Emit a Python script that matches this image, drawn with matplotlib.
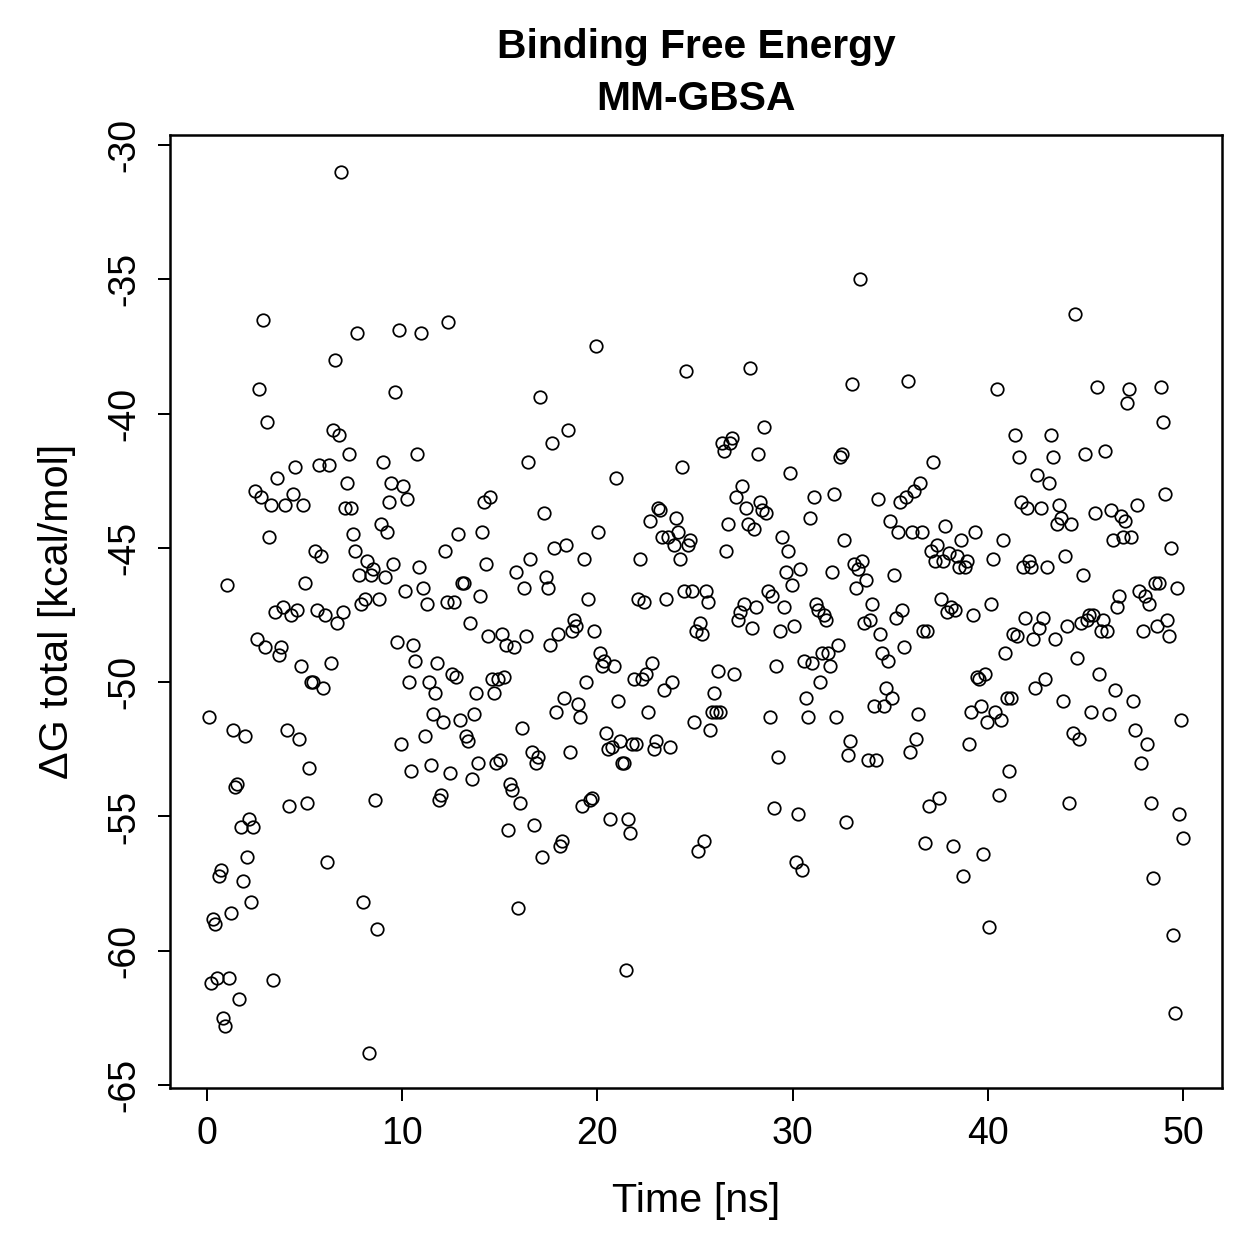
import matplotlib.pyplot as plt
import numpy as np

plt.switch_backend('Agg')
plt.rcParams['font.family'] = ['Liberation Sans', 'DejaVu Sans']
plt.rcParams['axes.unicode_minus'] = False

# binding free energy per frame in time order
dg_total = [
    -51.3, -61.2, -58.8, -59.0, -61.0, -57.2, -57.0, -62.5, -62.8, -46.4, -61.0, -58.6,
    -51.8, -53.9, -53.8, -61.8, -55.4, -57.4, -52.0, -56.5, -55.1, -58.2, -55.4, -42.9,
    -48.4, -39.1, -43.1, -36.5, -48.7, -40.3, -44.6, -43.4, -61.1, -47.4, -42.4, -49.0,
    -48.7, -47.2, -43.4, -51.8, -54.6, -47.5, -43.0, -42.0, -47.3, -52.1, -49.4, -43.4,
    -46.3, -54.5, -53.2, -50.0, -50.0, -45.1, -47.3, -41.9, -45.3, -50.2, -47.5, -56.7,
    -41.9, -49.3, -40.6, -38.0, -47.8, -40.8, -31.0, -47.4, -43.5, -42.6, -41.5, -43.5,
    -44.5, -45.1, -37.0, -46.0, -47.1, -58.2, -46.9, -45.5, -63.8, -46.0, -45.8, -54.4,
    -59.2, -46.9, -44.1, -41.8, -46.1, -44.4, -43.3, -42.6, -45.6, -39.2, -48.5, -36.9,
    -52.3, -42.7, -46.6,
    -43.2, -50.0, -53.3, -48.6, -49.2, -41.5, -45.7, -37.0, -46.5, -52.0, -47.1, -50.0,
    -53.1, -51.2, -50.4, -49.3, -54.4, -54.2, -51.5, -45.1, -47.0, -36.6, -53.4, -49.7,
    -47.0, -49.8, -44.5, -51.4, -46.3, -46.3, -52.0, -52.2, -47.8, -53.6, -51.2, -50.4,
    -53.0, -46.8, -44.4, -43.3, -45.6, -48.3, -43.1, -49.9, -50.4, -53.0, -49.9, -52.9,
    -48.2,
    -49.8, -48.6, -55.5, -53.8, -54.0, -48.7, -45.9, -58.4, -54.5, -51.7, -46.5, -48.3,
    -41.8, -45.4, -52.6, -55.3, -53.0, -52.8, -39.4, -56.5, -43.7, -46.1, -46.5, -48.6,
    -41.1, -45.0, -51.1, -48.2, -56.1, -55.9, -50.6, -44.9, -40.6, -52.6, -48.1, -47.7,
    -47.9, -50.8, -51.3, -54.6, -45.4, -50.0, -46.9, -54.4, -54.3, -48.1, -37.5, -44.4,
    -48.9, -49.4, -49.2,
    -51.9, -52.5, -55.1, -52.4, -49.4, -42.4, -50.7, -52.2, -53.0, -53.0, -60.7, -55.1,
    -55.6, -52.3, -49.9, -52.3, -46.9, -45.4, -49.9, -47.0, -49.7, -51.1, -44.0, -49.3,
    -52.5, -52.2, -43.5, -43.6, -44.6, -50.3, -46.9, -44.6, -52.4, -50.0, -44.9, -43.9,
    -44.4, -45.4, -42.0, -46.6, -38.4, -44.9, -44.7, -46.6, -51.5, -48.1, -56.3, -47.8,
    -48.2, -55.9, -46.6,
    -47.0, -51.8, -51.1, -50.4, -51.1, -49.6, -51.1, -41.1, -41.4, -45.1, -44.1, -41.1,
    -40.9, -49.7, -43.1, -47.7, -47.4, -42.7, -47.1, -43.5, -44.1, -38.3, -48.0, -44.3,
    -47.2, -41.5, -43.3, -43.6, -40.5, -43.7, -46.6, -51.3, -46.8, -54.7, -49.4, -52.8,
    -48.1, -44.6, -47.2, -45.9, -45.1, -42.2, -46.4, -47.9, -56.7, -54.9, -45.8, -57.0,
    -49.2,
    -50.6, -51.3, -43.9, -49.3, -43.1, -47.1, -47.3, -50.0, -48.9, -47.5, -47.7, -48.9,
    -49.4, -45.9, -43.0, -51.3, -48.6, -41.6, -41.5, -44.7, -55.2, -52.7, -52.2, -38.9,
    -45.6, -46.5, -45.8, -35.0, -45.5, -47.8, -46.2, -52.9, -47.7, -47.1, -50.9, -52.9,
    -43.2, -48.2, -48.9, -50.9, -50.2, -49.2, -44.0, -50.6, -46.0, -47.6, -44.4, -43.3,
    -47.3, -48.7,
    -43.1, -38.8, -52.6, -44.4, -42.9, -52.1, -51.2, -42.6, -44.4, -48.1, -56.0, -48.1,
    -54.6, -45.1, -41.8, -45.5, -44.9, -54.3, -46.9, -45.5, -44.2, -47.4, -45.2, -47.2,
    -56.1, -47.3, -45.3, -45.7, -44.7, -57.2, -45.7, -45.5, -52.3, -51.1, -47.5, -44.4,
    -49.8, -49.9, -50.9, -56.4, -49.7, -51.5, -59.1, -47.1, -45.4, -51.1, -39.1, -54.2,
    -51.4, -44.7,
    -48.9, -50.6, -53.3, -50.6, -48.2, -40.8, -48.3, -41.6, -43.3, -45.7, -47.6, -43.5,
    -45.5, -45.7, -48.4, -50.2, -42.3, -48.0, -43.5, -47.6, -49.9, -45.7, -42.6, -40.8,
    -41.6, -48.4, -44.1, -43.4, -43.9, -50.7, -45.3, -47.9, -54.5, -44.1, -51.9, -36.3,
    -49.1, -52.1, -47.8, -46.0, -41.5, -47.7, -47.5, -51.1, -47.5, -43.7, -39.0, -49.7,
    -48.1,
    -47.7, -41.4, -48.1, -51.2, -43.6, -44.7, -50.3, -47.2, -46.8, -43.8, -44.6, -44.0,
    -39.6, -39.1, -44.6, -50.7, -51.8, -43.4, -46.6, -53.0, -48.1, -46.8, -52.3, -47.1,
    -54.5, -57.3, -46.3, -47.9, -46.3, -39.0, -40.3, -43.0, -47.7, -48.3, -45.0, -59.4,
    -62.3, -46.5, -54.9, -51.4, -55.8,
]
# frames are evenly spaced over the 50 ns run
time_ns = np.linspace(0.1, 50, len(dg_total))

x_ticks = [0, 10, 20, 30, 40, 50]
y_ticks = [-30, -35, -40, -45, -50, -55, -60, -65]

fig = plt.figure(figsize=(1259 / 180, 1259 / 180), dpi=180)
ax = fig.add_axes([0.135, 0.1358, 0.8356, 0.757])

ax.plot(time_ns, dg_total, linestyle='none', marker='o', markersize=5.0,
        markerfacecolor='none', markeredgecolor='black', markeredgewidth=0.7)

ax.set_xlim(-1.9, 52.0)
ax.set_ylim(-65.11, -29.63)
ax.set_xticks(x_ticks)
ax.set_xticklabels([str(v) for v in x_ticks])
ax.set_yticks(y_ticks)
ax.set_yticklabels([str(v) for v in y_ticks], rotation=90, va='center')

for s in ax.spines.values():
    s.set_linewidth(1.0)
ax.tick_params(direction='out', length=5, width=0.8, labelsize=15, pad=6)

ax.set_xlabel('Time [ns]', fontsize=16.5, labelpad=12)
ax.set_ylabel('ΔG total [kcal/mol]', fontsize=16.5, labelpad=12)
ax.set_title('Binding Free Energy\nMM-GBSA', fontsize=16.3, fontweight='bold',
             pad=10, linespacing=1.45)

plt.savefig('out.png', dpi=180)
